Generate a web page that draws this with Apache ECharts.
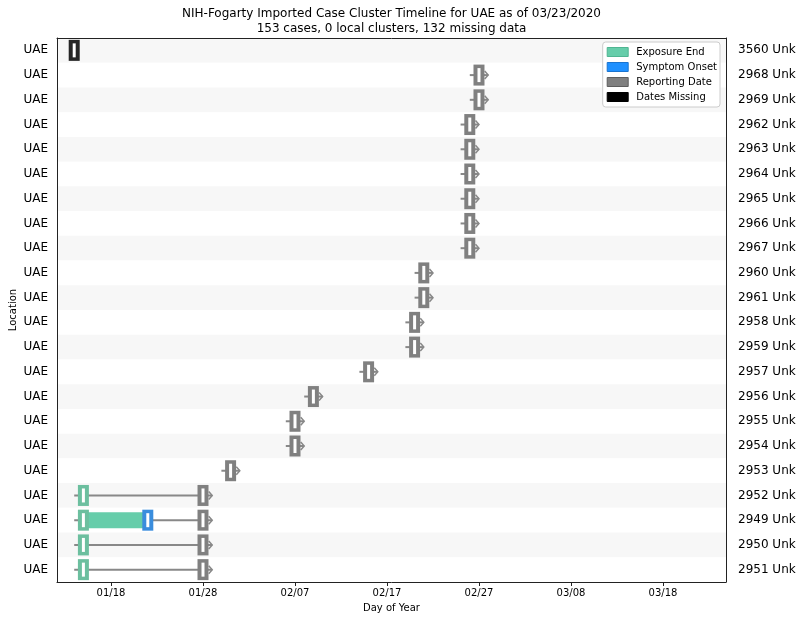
<!DOCTYPE html>
<html>
<head>
<meta charset="utf-8">
<script src="https://cdn.jsdelivr.net/npm/echarts@6/dist/echarts.min.js"></script>
<style>
  html, body { margin: 0; padding: 0; background: #fff; }
  #main { width: 805px; height: 620px; }
</style>
</head>
<body>
<div id="main"></div>
<script>
// rows from top to bottom
const locations = ['UAE', 'UAE', 'UAE', 'UAE', 'UAE', 'UAE', 'UAE', 'UAE', 'UAE', 'UAE', 'UAE',
  'UAE', 'UAE', 'UAE', 'UAE', 'UAE', 'UAE', 'UAE', 'UAE', 'UAE', 'UAE', 'UAE']
const caseIds = ['3560 Unk', '2968 Unk', '2969 Unk', '2962 Unk', '2963 Unk', '2964 Unk', '2965 Unk',
  '2966 Unk', '2967 Unk', '2960 Unk', '2961 Unk', '2958 Unk', '2959 Unk', '2957 Unk', '2956 Unk',
  '2955 Unk', '2954 Unk', '2953 Unk', '2952 Unk', '2949 Unk', '2950 Unk', '2951 Unk']
const exposureEnd = [null, null, null, null, null, null, null, null, null, null, null,
  null, null, null, null, null, null, null, '01/15', '01/15', '01/15', '01/15']
const symptomOnset = [null, null, null, null, null, null, null, null, null, null, null,
  null, null, null, null, null, null, null, null, '01/22', null, null]
const reportingDate = [null, '02/27', '02/27', '02/26', '02/26', '02/26', '02/26', '02/26', '02/26',
  '02/21', '02/21', '02/20', '02/20', '02/15', '02/09', '02/07', '02/07', '01/31',
  '01/28', '01/28', '01/28', '01/28']
const datesMissing = ['01/14', null, null, null, null, null, null, null, null, null, null,
  null, null, null, null, null, null, null, null, null, null, null]
const tickLabels = ['01/18', '01/28', '02/07', '02/17', '02/27', '03/08', '03/18']
const xRange = ['01/12', '03/25']

const FONT = 'DejaVu Sans'

// day of year for 2020
function dayOf(s) {
  const [m, d] = s.split('/').map(Number)
  return (Date.UTC(2020, m - 1, d) - Date.UTC(2020, 0, 0)) / 86400000
}
function fmtDay(v) {
  const dt = new Date(Date.UTC(2020, 0, 0) + Math.round(v) * 86400000)
  const mm = String(dt.getUTCMonth() + 1).padStart(2, '0')
  const dd = String(dt.getUTCDate()).padStart(2, '0')
  return mm + '/' + dd
}

const tickDays = tickLabels.map(dayOf)

function points(arr) {
  const out = []
  arr.forEach((s, i) => { if (s) out.push([dayOf(s), i]) })
  return out
}

// span line for every row with known dates
const spanData = []
locations.forEach((loc, i) => {
  const ds = [exposureEnd[i], symptomOnset[i], reportingDate[i]].filter(Boolean).map(dayOf)
  if (!ds.length) return
  spanData.push([
    Math.min(...ds) - 1,
    Math.max(...ds) + 1,
    i,
    exposureEnd[i] ? dayOf(exposureEnd[i]) : NaN,
    symptomOnset[i] ? dayOf(symptomOnset[i]) : NaN
  ])
})

function renderSpan(params, api) {
  const row = api.value(2)
  const p0 = api.coord([api.value(0), row])
  const p1 = api.coord([api.value(1), row])
  const children = [
    {
      type: 'line',
      shape: { x1: p0[0], y1: p0[1], x2: p1[0], y2: p1[1] },
      style: { stroke: '#888', lineWidth: 2 }
    },
    {
      type: 'polyline',
      shape: { points: [[p1[0] - 3.5, p1[1] - 4], [p1[0], p1[1]], [p1[0] - 3.5, p1[1] + 4]] },
      style: { stroke: '#888', lineWidth: 1.5, fill: null }
    }
  ]
  const e = api.value(3)
  const o = api.value(4)
  if (!isNaN(e) && !isNaN(o)) {
    const a = api.coord([e, row])
    const b = api.coord([o, row])
    children.push({
      type: 'rect',
      shape: { x: a[0], y: a[1] - 8, width: b[0] - a[0], height: 16 },
      style: { fill: '#66cdaa' }
    })
  }
  return { type: 'group', children: children }
}

function boxRenderer(fill) {
  return function (params, api) {
    const c = api.coord([api.value(0), api.value(1)])
    return {
      type: 'group',
      children: [
        { type: 'rect', shape: { x: c[0] - 5.5, y: c[1] - 10.5, width: 11, height: 21 }, style: { fill: fill } },
        { type: 'rect', shape: { x: c[0] - 1.5, y: c[1] - 7, width: 3, height: 14 }, style: { fill: '#fff' } }
      ]
    }
  }
}

const chart = echarts.init(document.getElementById('main'))

const xMin = dayOf(xRange[0]) + 0.13
const xMax = dayOf(xRange[1]) - 0.15

chart.setOption({
  animation: false,
  textStyle: { fontFamily: FONT },
  graphic: [
    {
      type: 'text', x: 391.5, y: 6,
      style: {
        text: 'NIH-Fogarty Imported Case Cluster Timeline for UAE as of 03/23/2020\n153 cases, 0 local clusters, 132 missing data',
        align: 'center', fontSize: 12, lineHeight: 15, fill: '#000', fontFamily: FONT
      }
    }
  ],
  legend: {
    orient: 'vertical',
    right: 85,
    top: 42,
    backgroundColor: '#fff',
    borderColor: '#ccc',
    borderWidth: 1,
    borderRadius: 3,
    padding: [5, 3, 5, 4],
    itemWidth: 21,
    itemHeight: 9,
    itemGap: 5,
    textStyle: { fontSize: 10, color: '#000', fontFamily: FONT, padding: [0, 0, 0, 3] },
    data: [
      { name: 'Exposure End', icon: 'rect', itemStyle: { color: '#66cdaa', borderColor: '#4fb592', borderWidth: 1 } },
      { name: 'Symptom Onset', icon: 'rect', itemStyle: { color: '#1e90ff', borderColor: '#1a74d0', borderWidth: 1 } },
      { name: 'Reporting Date', icon: 'rect', itemStyle: { color: '#808080', borderColor: '#5e5e5e', borderWidth: 1 } },
      { name: 'Dates Missing', icon: 'rect', itemStyle: { color: '#000', borderColor: '#000', borderWidth: 1 } }
    ]
  },
  grid: { left: 57, right: 79, top: 38, bottom: 38, containLabel: false, outerBoundsMode: 'none' },
  xAxis: [
    {
      type: 'value',
      min: xMin,
      max: xMax,
      name: 'Day of Year',
      nameLocation: 'middle',
      nameGap: 21,
      nameTextStyle: { fontSize: 10, color: '#000', fontFamily: FONT },
      axisLine: { show: true, lineStyle: { color: '#222', width: 1 } },
      axisTick: { show: true, length: 4, lineStyle: { color: '#222' }, customValues: tickDays },
      axisLabel: { fontSize: 10, color: '#000', margin: 6, customValues: tickDays, formatter: fmtDay },
      splitLine: { show: false }
    },
    {
      type: 'value',
      position: 'top',
      min: xMin,
      max: xMax,
      axisLine: { show: true, lineStyle: { color: '#222', width: 1 } },
      axisTick: { show: false },
      axisLabel: { show: false },
      splitLine: { show: false }
    }
  ],
  yAxis: [
    {
      type: 'category',
      data: locations,
      inverse: true,
      name: 'Location',
      nameLocation: 'middle',
      nameGap: 39,
      nameMoveOverlap: false,
      nameTextStyle: { fontSize: 10, color: '#000', fontFamily: FONT },
      axisLine: { show: true, lineStyle: { color: '#222', width: 1 } },
      axisTick: { show: false },
      axisLabel: { fontSize: 12, color: '#000', margin: 9 },
      splitArea: { show: true, areaStyle: { color: ['#f7f7f7', '#ffffff'] } }
    },
    {
      type: 'category',
      data: caseIds,
      inverse: true,
      position: 'right',
      axisLine: { show: true, lineStyle: { color: '#222', width: 1 } },
      axisTick: { show: false },
      axisLabel: { fontSize: 12, color: '#000', margin: 12 }
    }
  ],
  series: [
    {
      type: 'custom',
      name: 'span',
      renderItem: renderSpan,
      encode: { x: [0, 1], y: 2 },
      data: spanData,
      z: 2
    },
    {
      type: 'custom',
      name: 'Exposure End',
      itemStyle: { color: '#66cdaa' },
      renderItem: boxRenderer('#6cbf9f'),
      encode: { x: 0, y: 1 },
      data: points(exposureEnd),
      z: 3
    },
    {
      type: 'custom',
      name: 'Symptom Onset',
      itemStyle: { color: '#1e90ff' },
      renderItem: boxRenderer('#3a8ddd'),
      encode: { x: 0, y: 1 },
      data: points(symptomOnset),
      z: 3
    },
    {
      type: 'custom',
      name: 'Reporting Date',
      itemStyle: { color: '#808080' },
      renderItem: boxRenderer('#808080'),
      encode: { x: 0, y: 1 },
      data: points(reportingDate),
      z: 3
    },
    {
      type: 'custom',
      name: 'Dates Missing',
      itemStyle: { color: '#000' },
      renderItem: boxRenderer('#262626'),
      encode: { x: 0, y: 1 },
      data: points(datesMissing),
      z: 3
    }
  ]
})
</script>
</body>
</html>
